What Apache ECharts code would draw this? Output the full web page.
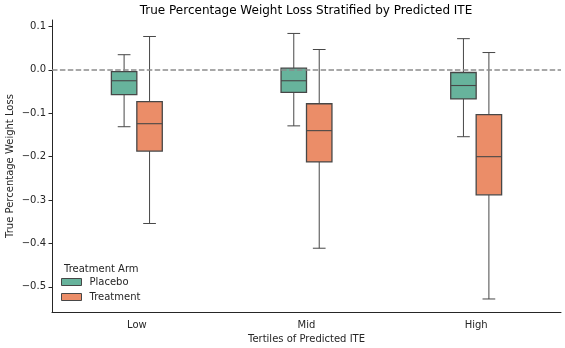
<!DOCTYPE html>
<html>
<head>
<meta charset="utf-8">
<script src="https://cdn.jsdelivr.net/npm/echarts@6/dist/echarts.min.js"></script>
<style>
html,body{margin:0;padding:0;background:#fff;}
#chart{width:565px;height:348px;}
</style>
</head>
<body>
<div id="chart"></div>
<script>
// ---- data ----
var categories = ['Low', 'Mid', 'High'];
// [lower whisker, Q1, median, Q3, upper whisker]
var placeboStats = [
  [-0.131, -0.057, -0.025, -0.004, 0.035],
  [-0.129, -0.052, -0.025, 0.004, 0.084],
  [-0.154, -0.067, -0.036, -0.006, 0.072]
];
var treatmentStats = [
  [-0.354, -0.187, -0.124, -0.073, 0.077],
  [-0.411, -0.212, -0.140, -0.078, 0.047],
  [-0.528, -0.288, -0.200, -0.103, 0.040]
];
var yTicks = [-0.5, -0.4, -0.3, -0.2, -0.1, 0.0, 0.1];
var seriesNames = ['Placebo', 'Treatment'];

var FONT = 'DejaVu Sans';
var EDGE = '#474747';
var COLORS = ['#67b39c', '#eb8d68'];

function toData(stats) {
  return stats.map(function (s, i) { return [i].concat(s); });
}

function makeRender(offsetFrac) {
  return function (params, api) {
    var band = api.size([1, 0])[0];
    var idx = api.value(0);
    var cx = api.coord([idx, 0])[0] + band * offsetFrac;
    var bw = band * 0.15;
    var cw = bw / 2;
    var yMin = api.coord([idx, api.value(1)])[1];
    var yQ1 = api.coord([idx, api.value(2)])[1];
    var yMed = api.coord([idx, api.value(3)])[1];
    var yQ3 = api.coord([idx, api.value(4)])[1];
    var yMax = api.coord([idx, api.value(5)])[1];
    var lineStyle = { stroke: EDGE, lineWidth: 1 };
    var fill = api.visual('color');
    return {
      type: 'group',
      children: [
        { type: 'line', shape: { x1: cx, y1: yMin, x2: cx, y2: yQ1 }, style: lineStyle },
        { type: 'line', shape: { x1: cx, y1: yQ3, x2: cx, y2: yMax }, style: lineStyle },
        { type: 'line', shape: { x1: cx - cw / 2, y1: yMin, x2: cx + cw / 2, y2: yMin }, style: lineStyle },
        { type: 'line', shape: { x1: cx - cw / 2, y1: yMax, x2: cx + cw / 2, y2: yMax }, style: lineStyle },
        { type: 'rect', shape: { x: cx - bw / 2, y: yQ3, width: bw, height: yQ1 - yQ3 },
          style: { fill: fill, stroke: EDGE, lineWidth: 1.3 } },
        { type: 'line', shape: { x1: cx - bw / 2, y1: yMed, x2: cx + bw / 2, y2: yMed },
          style: { stroke: EDGE, lineWidth: 1.1 } }
      ]
    };
  };
}

function fmt(v) {
  var s = Math.abs(v).toFixed(1);
  return (v < -1e-9 ? '\u2212' : '') + s;
}

var chart = echarts.init(document.getElementById('chart'), null, { renderer: 'canvas' });
chart.setOption({
  animation: false,
  backgroundColor: '#ffffff',
  textStyle: { fontFamily: FONT },
  title: [
    { text: 'True Percentage Weight Loss Stratified by Predicted ITE', left: 306, top: 5, padding: 0, textAlign: 'center',
      textStyle: { fontFamily: FONT, fontSize: 12, fontWeight: 'normal', color: '#000' } },
    { text: 'Treatment Arm', left: 64, top: 264, padding: 0,
      textStyle: { fontFamily: FONT, fontSize: 10, fontWeight: 'normal', color: '#262626' } }
  ],
  legend: {
    orient: 'vertical', left: 61, top: 277, padding: 0, itemWidth: 20, itemHeight: 7, itemGap: 5,
    icon: 'rect',
    data: seriesNames,
    textStyle: { fontFamily: FONT, fontSize: 10, color: '#262626', padding: [0, 0, 0, 3] },
    itemStyle: { borderColor: EDGE, borderWidth: 1 }
  },
  grid: { left: 52, right: 4, top: 20, bottom: 36, outerBoundsMode: 'none', containLabel: false },
  xAxis: {
    type: 'category', data: categories, boundaryGap: true,
    name: 'Tertiles of Predicted ITE', nameLocation: 'middle', nameGap: 22, nameMoveOverlap: false,
    nameTextStyle: { fontFamily: FONT, fontSize: 10, color: '#262626' },
    axisLine: { onZero: false, lineStyle: { color: '#262626', width: 1 } },
    axisTick: { alignWithLabel: true, length: 3.5, lineStyle: { color: '#262626' } },
    axisLabel: { fontFamily: FONT, fontSize: 10, color: '#262626', margin: 8 },
    splitLine: { show: false }
  },
  yAxis: {
    type: 'value', min: -0.558, max: 0.115,
    name: 'True Percentage Weight Loss', nameLocation: 'middle', nameGap: 37, nameRotate: 90, nameMoveOverlap: false,
    nameTextStyle: { fontFamily: FONT, fontSize: 10, color: '#262626' },
    axisLine: { show: true, lineStyle: { color: '#262626', width: 1 } },
    axisTick: { show: true, length: 3.5, lineStyle: { color: '#262626' }, customValues: yTicks },
    axisLabel: { fontFamily: FONT, fontSize: 10, color: '#262626', margin: 6, formatter: fmt, customValues: yTicks },
    splitLine: { show: false }
  },
  series: [
    {
      name: seriesNames[0], type: 'custom', renderItem: makeRender(-0.075),
      itemStyle: { color: COLORS[0], borderColor: EDGE },
      encode: { x: 0, y: [1, 2, 3, 4, 5] },
      data: toData(placeboStats),
      markLine: {
        silent: true, symbol: 'none', label: { show: false }, z: 10,
        lineStyle: { color: '#8c8c8c', width: 1.5, type: [5.5, 2.4] },
        data: [{ yAxis: 0 }]
      }
    },
    {
      name: seriesNames[1], type: 'custom', renderItem: makeRender(0.075),
      itemStyle: { color: COLORS[1], borderColor: EDGE },
      encode: { x: 0, y: [1, 2, 3, 4, 5] },
      data: toData(treatmentStats)
    }
  ]
});
</script>
</body>
</html>
